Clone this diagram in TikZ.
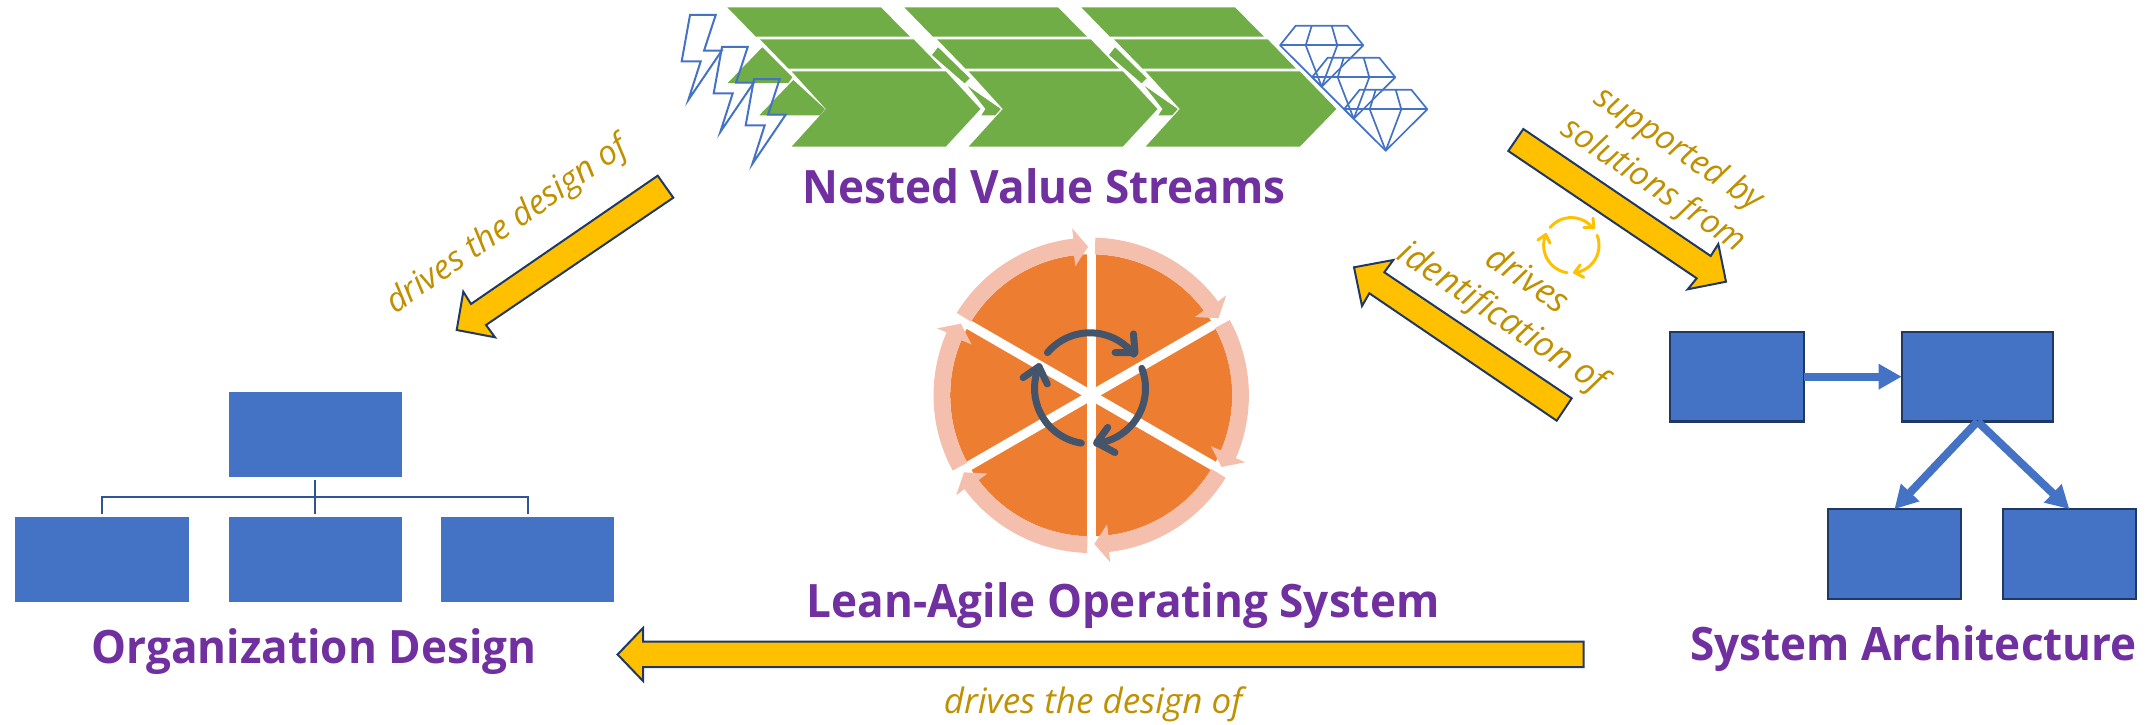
\documentclass[tikz,border=0pt]{standalone}
\usepackage{fontspec}
\setmainfont{Open Sans}
\usetikzlibrary{arrows.meta}
\definecolor{gblue}{HTML}{4472C4}
\definecolor{gnavy}{HTML}{1F3864}
\definecolor{ggreen}{HTML}{70AD47}
\definecolor{gorange}{HTML}{ED7D31}
\definecolor{gring}{HTML}{F4BFAD}
\definecolor{gdark}{HTML}{44546A}
\definecolor{ggold}{HTML}{FFC000}
\definecolor{gtext}{HTML}{BF9000}
\definecolor{gpurple}{HTML}{7030A0}
\definecolor{gline}{HTML}{2F5597}
\tikzset{
  orgbox/.style={fill=gblue,inner sep=0pt,outer sep=0pt,minimum width=173.4pt,minimum height=85pt},
  sysbox/.style={fill=gblue,draw=gnavy,line width=2.2pt,inner sep=0pt,outer sep=0pt,minimum height=89.5pt},
  title/.style={text=gpurple,anchor=base,inner sep=0pt,xscale=.958,transform shape,font=\fontsize{46}{50}\selectfont\bfseries},
  label/.style={text=gtext,inner sep=0pt,align=center,font=\fontsize{33.5}{44}\selectfont\itshape},
  biglabel/.style={label,font=\fontsize{35}{45}\selectfont\itshape},
  blockarrow/.style={fill=ggold,draw=gnavy,line width=2pt,line join=miter},
  sysarrow/.style={draw=gblue,line width=8pt,-{Triangle[length=23pt,width=24pt]}},
  orgline/.style={draw=gline,line width=2pt},
  gem/.style={draw=gblue,line width=1.7pt,line join=round},
  bolt/.style={draw=gblue,line width=2pt,line join=miter}
}
\newcommand{\cyclemark}[5]{%
  \begin{scope}[shift={(#1,#2)},x=#3pt,y=#3pt,draw=#5,line width=#4pt,line cap=round,line join=round]
    \draw (140:1) arc[start angle=140,end angle=38,radius=1];
    \draw (.783,.98) -- (.81,.645) -- (.452,.645);
    \draw (21:1) arc[start angle=21,end angle=-83,radius=1];
    \draw (.32,-.705) -- (.12,-.98) -- (.45,-1.157);
    \draw (261:1) arc[start angle=261,end angle=157,radius=1];
    \draw (-1.205,.193) -- (-.92,.39) -- (-.77,.078);
  \end{scope}}
\begin{document}
\begin{tikzpicture}[x=1pt,y=-1pt]
\useasboundingbox (0,0) rectangle (2151,725);
% green value streams
\foreach \d/\t in {0/980.5,177/980.5,354/982.4}{
  \begin{scope}[xshift=\d pt]
    \fill[ggreen] (727.3,7.3) -- (880.9,7.3) -- (910,36.7) -- (755.9,36.7) -- cycle;
    \fill[ggreen] (760,39.3) -- (913.6,39.3) -- (942.1,68.7) -- (788.6,68.7) -- cycle;
    \fill[ggreen] (791.6,71.3) -- (945.7,71.3) -- (\t,109) -- (945.7,146.7) -- (791.6,146.7) -- (825.8,109) -- cycle;
  \end{scope}}
\fill[ggreen] (762.3,47.3) -- (792.3,77.3) -- (788.3,83) -- (727.7,83) -- cycle;
\fill[ggreen] (793.3,80) -- (825,109) -- (820,115.3) -- (759.3,115.3) -- cycle;
\foreach \d in {0,177}{
  \begin{scope}[xshift=\d pt]
    \fill[ggreen] (938,47.3) -- (969.7,78.3) -- (964.6,83.3) -- (932,55) -- cycle;
    \fill[ggreen] (967.6,86) -- (1000.8,109) -- (995.2,115.3) -- (981.4,115.3) -- (985.5,109) -- cycle;
  \end{scope}}
% lightning
\foreach \s in {0,32,64}{
  \begin{scope}[xshift=\s pt,yshift=-\s pt]
    \draw[bolt] (690,15) -- (715.7,15) -- (704,50.7) -- (721.7,50.7) -- (688.3,100) -- (700.7,61.3) -- (681.7,61.3) -- cycle;
  \end{scope}}
% gems
\foreach \s in {0,32,64}{
  \begin{scope}[xshift=\s pt,yshift=-\s pt]
    \draw[gem] (1295.7,25.7) -- (1347.3,25.7) -- (1363.3,45.3) -- (1321.7,86.7) -- (1280,45.3) -- cycle;
    \draw[gem] (1280,45.3) -- (1363.3,45.3);
    \draw[gem] (1311.7,25.7) -- (1305.7,45.3) -- (1321.7,86.7) -- (1337.3,45.3) -- (1331.7,25.7);
  \end{scope}}
% operating system wheel
\begin{scope}[shift={(1091.2,395.3)},x=1pt,y=1pt]
  \fill[gorange] (0,0) circle[radius=141];
  \foreach \a in {90,30,-30}{
    \draw[white,line width=9.4pt] (\a:148) -- (\a+180:148);
  }
  \foreach \k in {0,...,5}{
    \begin{scope}[rotate=-60*\k]
      \fill[gring] (88.5:157.7) arc[start angle=88.5,end angle=36.5,radius=157.7]
        -- (36.5:168) -- (31.2:148.7) -- (37:130) -- (37:141)
        arc[start angle=37,end angle=88.5,radius=141] -- cycle;
    \end{scope}}
\end{scope}
\cyclemark{1090}{388.3}{55.5}{7}{gdark}
\cyclemark{1571.3}{245.3}{27.7}{3}{ggold}
% block arrows
\draw[blockarrow] (657.7,175.7) -- (673.3,197.7) -- (486,325) -- (495,337.3) -- (456.7,330) -- (463.3,291.7) -- (471,304) -- cycle;
\draw[blockarrow] (1523.3,129) -- (1508.3,151) -- (1696.7,278.3) -- (1687.7,289.3) -- (1726,281.7) -- (1718.3,244) -- (1710.7,256) -- cycle;
\draw[blockarrow] (1571.7,398.3) -- (1556.7,420.7) -- (1369.3,293.3) -- (1362,306) -- (1354,267.3) -- (1393.3,260) -- (1384.3,272.3) -- cycle;
\draw[blockarrow] (1583.7,641.6) -- (1583.7,667) -- (643,667) -- (643,681) -- (617.6,654.5) -- (643,628) -- (643,641.6) -- cycle;
% organization chart
\node[orgbox] (orgtop) at (315.3,434.8) {};
\node[orgbox] (orgleft) at (102,559.8) {};
\node[orgbox] (orgmid) at (315.3,559.8) {};
\node[orgbox] (orgright) at (527.7,559.8) {};
\coordinate (orgbus) at (315.3,497.3);
\draw[orgline] ([yshift=-3pt]orgtop.south) -- ([yshift=3pt]orgmid.north);
\draw[orgline] ([yshift=3pt]orgleft.north) |- (orgbus) -| ([yshift=3pt]orgright.north);
% system architecture
\node[sysbox,minimum width=134pt] (sysa) at (1737,376.7) {};
\node[sysbox,minimum width=151.6pt] (sysb) at (1977.5,376.7) {};
\node[sysbox,minimum width=133.3pt] (sysc) at (1894.4,553.9) {};
\node[sysbox,minimum width=133.3pt] (sysd) at (2069.4,553.9) {};
\draw[sysarrow] (sysa.east) -- (sysb.west);
\draw[sysarrow] (sysb.south) -- (sysc.north);
\draw[sysarrow] (sysb.south) -- (sysd.north);
% titles
\node[title] (tnested) at (1044,203) {Nested Value Streams};
\node[title] (tlean) at (1123,617) {Lean-Agile Operating System};
\node[title] (torg) at (314,663) {Organization Design};
\node[title] (tsys) at (1913.5,660.7) {System Architecture};
% labels
\node[label,rotate=34.6] (l1) at (507.6,226) {drives the design of};
\node[biglabel] (l2) at (1093,704) {drives the design of};
\node[label,rotate=-34] (l3) at (1665.5,168) {supported by\\solutions from};
\node[biglabel,rotate=-34] (l4) at (1514,300) {drives\\identification of};
\end{tikzpicture}
\end{document}
